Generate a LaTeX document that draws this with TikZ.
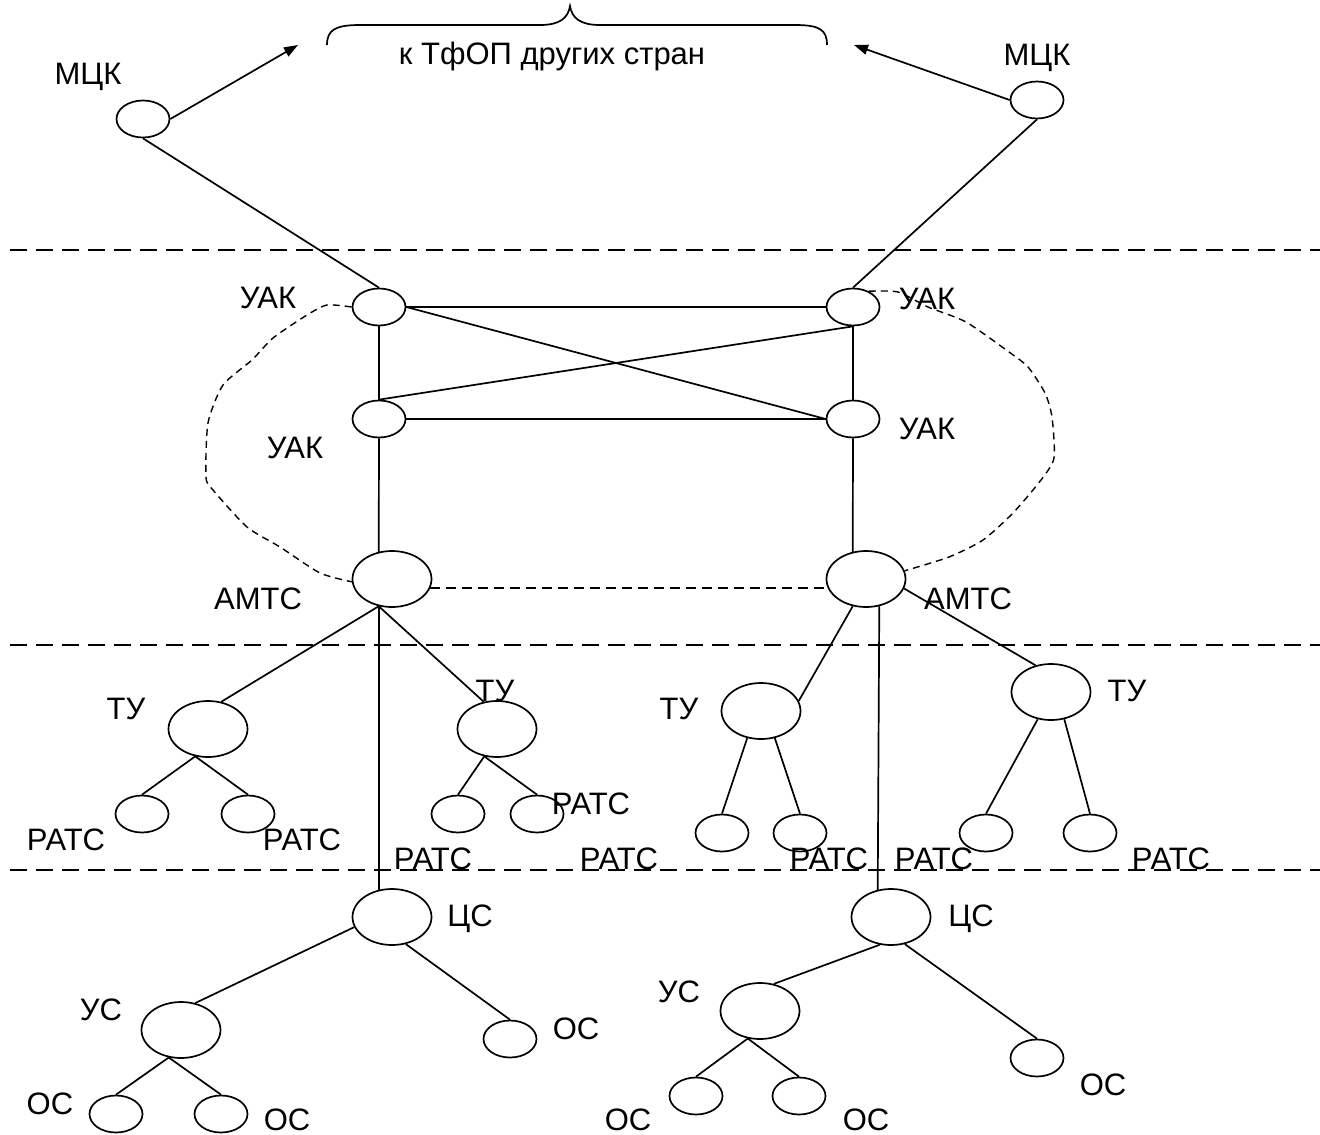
\documentclass[tikz,border=0pt]{standalone}
\usepackage{fontspec}
\setmainfont{Liberation Sans}
\usetikzlibrary{shapes.geometric,arrows.meta}
\begin{document}
\begin{tikzpicture}[x=1pt,y=-1pt,
 sm/.style={draw,ellipse,minimum width=53pt,minimum height=37pt,inner sep=0pt,line width=1.7pt},
 bg/.style={draw,ellipse,minimum width=79pt,minimum height=56pt,inner sep=0pt,line width=1.7pt},
 lbl/.style={font=\fontsize{31}{37}\selectfont,inner sep=0pt,text height=22pt,text depth=0pt},
 ln/.style={line width=1.7pt},
 sep/.style={line width=1.7pt,dash pattern=on 17pt off 9pt},
 dsh/.style={line width=1.4pt,dash pattern=on 7pt off 5pt},
 dsh2/.style={line width=1.5pt,dash pattern=on 10pt off 6pt},
 arr/.style={line width=1.7pt,-{Triangle[length=14pt,width=10pt]}}]
\useasboundingbox (0,0) rectangle (1320,1135);

% separators
\draw[sep] (10,250) -- (1320,250);
\draw[sep] (10,645) -- (1320,645);
\draw[sep] (10,870) -- (1320,870);

% top
\node[sm] (mckl) at (143,119) {};
\node[lbl] (mckll) at (88,73) {МЦК};
\node[sm] (mckr) at (1037,100) {};
\node[lbl] (mckrl) at (1037,54) {МЦК};
\node[lbl] (tfop) at (552,53) {к ТфОП других стран};
\coordinate (al) at (298,45);
\coordinate (ar) at (854,45);
\draw[ln] (327,45) .. controls (327,30) and (335,25) .. (360,25) -- (540,25)
  .. controls (560,25) and (568,18) .. (570,6)
  .. controls (572,18) and (580,25) .. (600,25) -- (795,25)
  .. controls (820,25) and (827,30) .. (827,45);
\draw[arr] (mckl.east) -- (al);
\draw[arr] (mckr.west) -- (ar);

% UAK / AMTS
\node[sm] (tl) at (379,307) {};
\node[sm] (tr) at (853,307) {};
\node[sm] (ml) at (379,419) {};
\node[sm] (mr) at (853,419) {};
\node[bg] (amtsl) at (392,579) {};
\node[bg] (amtsr) at (866,579) {};
\node[lbl] (ltl) at (268,297) {УАК};
\node[lbl] (ltr) at (927,298) {УАК};
\node[lbl] (lml) at (295,447) {УАК};
\node[lbl] (lmr) at (927,428) {УАК};
\node[lbl] (lal) at (258,598) {АМТС};
\node[lbl] (lar) at (968,598) {АМТС};

\draw[ln] (mckl.south) -- (tl.north);
\draw[ln] (mckr.south) -- (tr.north);
\draw[ln] (tl.east) -- (tr.west);
\draw[ln] (tl.east) -- (mr.west);
\draw[ln] (ml.north) -- (tr.south);
\draw[ln] (ml.east) -- (mr.west);
\draw[ln] (tl.south) -- (ml.north);
\draw[ln] (tr.south) -- (mr.north);
\draw[ln] (ml.south) -- (amtsl.116);
\draw[ln] (mr.south) -- (amtsr.116);
\draw[dsh2] (amtsl.-13) -- (amtsr.193);
\draw[dsh] plot[smooth,tension=0.4] coordinates {(tl.west) (327,305) (307,315) (273,338) (252,360) (223,385) (208,423) (206,477) (213,490) (247,527) (280,547) (320,573) (amtsl.184)};
\draw[dsh] plot[smooth,tension=0.4] coordinates {(tr.45) (898,292) (928,307) (966,322) (1009,352) (1028,367) (1045,393) (1052,417) (1054,458) (1041,480) (1013,513) (983,540) (949,557) (amtsr.12)};

% TU level
\node[bg] (tul) at (208,729) {};
\node[bg] (tum) at (497,729) {};
\node[bg] (tur1) at (761,711) {};
\node[bg] (tur2) at (1051,692) {};
\node[lbl] (ltul) at (126,708) {ТУ};
\node[lbl] (ltum) at (495,690) {ТУ};
\node[lbl] (ltur1) at (679,708) {ТУ};
\node[lbl] (ltur2) at (1127,690) {ТУ};
\node[sm] (r1) at (142,814) {};
\node[sm] (r2) at (248,814) {};
\node[sm] (r3) at (458,814) {};
\node[sm] (r4) at (537,814) {};
\node[sm] (r5) at (722,833) {};
\node[sm] (r6) at (800,833) {};
\node[sm] (r7) at (986,833) {};
\node[sm] (r8) at (1090,833) {};
\node[lbl] (lr1) at (66,839) {РАТС};
\node[lbl] (lr2) at (302,839) {РАТС};
\node[lbl] (lr3) at (591,803) {РАТС};
\node[lbl] (lr4) at (433,858) {РАТС};
\node[lbl] (lr5) at (619,858) {РАТС};
\node[lbl] (lr6) at (829,858) {РАТС};
\node[lbl] (lr7) at (934,858) {РАТС};
\node[lbl] (lr8) at (1171,858) {РАТС};

\draw[ln] (amtsl.244) -- (tul.64);
\draw[ln] (amtsl.244) -- (tum.116);
\draw[ln] (amtsr.244) -- (tur1.15);
\draw[ln] (amtsr.-14) -- (tur2.120);
\draw[ln] (tul.245) -- (r1.north);
\draw[ln] (tul.245) -- (r2.north);
\draw[ln] (tum.245) -- (r3.north);
\draw[ln] (tum.245) -- (r4.north);
\draw[ln] (tur1.243) -- (r5.north);
\draw[ln] (tur1.297) -- (r6.north);
\draw[ln] (tur2.244) -- (r7.north);
\draw[ln] (tur2.296) -- (r8.north);

% CS level
\node[bg] (csl) at (392,917) {};
\node[bg] (csr) at (891,917) {};
\node[lbl] (lcsl) at (470,915) {ЦС};
\node[lbl] (lcsr) at (971,915) {ЦС};
\node[bg] (usl) at (181,1030) {};
\node[bg] (usr) at (760,1011) {};
\node[lbl] (lusl) at (101,1009) {УС};
\node[lbl] (lusr) at (679,991) {УС};
\node[sm] (o1) at (510,1039) {};
\node[sm] (o2) at (116,1114) {};
\node[sm] (o3) at (221,1114) {};
\node[sm] (o4) at (1037,1058) {};
\node[sm] (o5) at (696,1096) {};
\node[sm] (o6) at (799,1096) {};
\node[lbl] (lo1) at (576,1028) {ОС};
\node[lbl] (lo2) at (50,1103) {ОС};
\node[lbl] (lo3) at (287,1119) {ОС};
\node[lbl] (lo4) at (1103,1084) {ОС};
\node[lbl] (lo5) at (628,1119) {ОС};
\node[lbl] (lo6) at (866,1119) {ОС};

\draw[ln] (amtsl.244) -- (csl.116);
\draw[ln] (amtsr.296) -- (csr.116);
\draw[ln] (csl.195) -- (usl.62);
\draw[ln] (csl.297) -- (o1.north);
\draw[ln] (usl.246) -- (o2.north);
\draw[ln] (usl.246) -- (o3.north);
\draw[ln] (csr.248) -- (usr.63);
\draw[ln] (csr.297) -- (o4.north);
\draw[ln] (usr.246) -- (o5.north);
\draw[ln] (usr.246) -- (o6.north);
\end{tikzpicture}
\end{document}
